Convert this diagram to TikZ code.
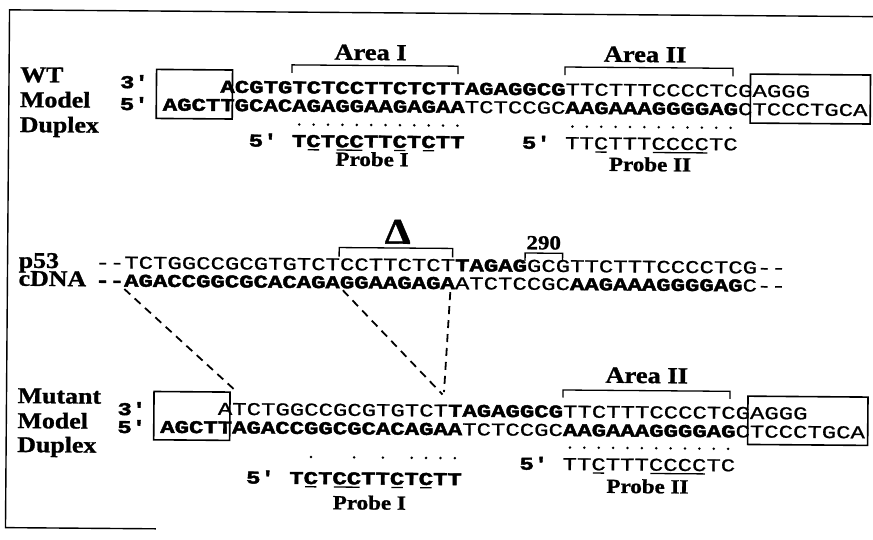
\documentclass[tikz,border=0pt]{standalone}
\usepackage{fontspec}
\newfontfamily\seqf[FakeStretch=1.3315, FakeBold=1.0, BoldFeatures={FakeBold=2.4}]{Liberation Mono}
\newfontfamily\labf[FakeStretch=1.15, FakeBold=1.2]{Liberation Serif}
\newcommand\rg[1]{{\mdseries #1}}
\newcommand\qq{\textquotesingle}
\def\xo{161.5}
\def\pp{14.38}
\def\xq{95.5}
\tikzset{
  seq/.style={anchor=base west, inner sep=0pt, outer sep=0pt, text height=12pt, text depth=0pt, font=\seqf\fontsize{18}{18}\selectfont\bfseries, transform shape},
  side/.style={anchor=base west, inner sep=0pt, text height=14pt, text depth=3pt, font=\labf\fontsize{22.5}{22.5}\selectfont\bfseries, transform shape},
  area/.style={anchor=base, inner sep=0pt, font=\labf\fontsize{23}{23}\selectfont\bfseries, transform shape},
  probelab/.style={anchor=base, inner sep=0pt, font=\labf\fontsize{20}{20}\selectfont\bfseries, transform shape},
  brk/.style={line width=1.3pt},
  seqbox/.style={draw, line width=1.6pt},
  ul/.style={line width=1.3pt},
  dashln/.style={line width=1.8pt, dash pattern=on 8pt off 6pt},
  frameln/.style={line width=1.4pt}
}
\begin{document}
\begin{tikzpicture}[x=1pt,y=-1pt]
\useasboundingbox (0,0) rectangle (873,539);
\begin{scope}[rotate around={-0.45:(436,270)}]
% frame
\draw[frameln] (885,13.2) -- (7.5,13.2) -- (7.5,531) -- (158,531);

% ================= WT =================
\node[side] (wtl) at (18.5,85.3) {WT};
\node[side] (wtm) at (18.5,110.3) {Model};
\node[side] (wtd) at (18.5,135.3) {Duplex};
\node[seq] (wt3) at (118.6,90.5) {3\qq};
\node[seq] (wt5) at (118.6,112.5) {5\qq};
\node[seq] (wt1) at ({\xo+4*\pp},94.4) {ACGTGTCTCCTTCTCTTAGAGGCG\rg{TTCTTTCCCCTCGAGGG}};
\node[seq] (wt2) at (\xo,112.7) {AGCTTGCACAGAGGAAGAGAA\rg{TCTCCGC}AAGAAAGGGGAG\rg{CTCCCTGCA}};
\draw[seqbox] (155,71.6) rectangle (231,120.6);
\draw[seqbox] (749,71.6) rectangle (869,120.6);
% Area I / II
\node[area] (a1) at (368.9,60.5) {Area I};
\draw[brk] (290.4,74) -- (290.4,66) -- (456.4,66) -- (456.4,74);
\node[area] (a2) at (643.4,60.4) {Area II};
\draw[brk] (563.4,74) -- (563.4,66) -- (731.4,66) -- (731.4,74);
% dots
\foreach \c in {9,...,20} \fill ({\xo+(\c+0.5)*\pp},125.5) circle (1.4);
\foreach \c in {28,...,39} \fill ({\xo+(\c+0.5)*\pp},125.5) circle (1.4);
% probes
\node[seq] (wtp15) at ({\xo+6*\pp},148) {5\qq};
\node[seq] (wtp1) at ({\xo+9*\pp},148) {TCTCCTTCTCTT};
\foreach \a/\b in {10/11,12/14,16/17,18/19}
  \draw[ul] ({\xo+\a*\pp+1.5},150.8) -- ({\xo+\b*\pp-1.5},150.8);
\node[seq] (wtp25) at ({\xo+25*\pp},148) {5\qq};
\node[seq] (wtp2) at ({\xo+28*\pp},148) {\rg{TTCTTTCCCCTC}};
\foreach \a/\b in {30/31,34/38}
  \draw[ul] ({\xo+\a*\pp+1.5},150.8) -- ({\xo+\b*\pp-1.5},150.8);
\node[probelab] (wtpl1) at (371.2,166.5) {Probe I};
\node[probelab] (wtpl2) at (649.2,169.5) {Probe II};

% ================= p53 cDNA =================
\node[side] (pl1) at (18.5,271) {p53};
\node[side] (pl2) at (18.5,289) {cDNA};
\node[seq] (p1) at (\xq,271) {\rg{-\kern0pt-TCTGGCCGCGTGTCTCCTTCTCT}TAGAG\rg{GCGTTCTTTCCCCTCG-\kern0pt-}};
\node[seq] (p2) at (\xq,289) {-\kern0pt-AGACCGGCGCACAGAGGAAGAGA\rg{ATCTCCGC}AAGAAAGGGGAG\rg{C-\kern0pt-}};
\node[anchor=base, inner sep=0pt, font=\labf\fontsize{36}{36}\selectfont\bfseries, transform shape] (delta) at (397.5,244) {Δ};
\draw[brk] (339,257.3) -- (339,248.3) -- (452.5,248.3) -- (452.5,257.3);
\node[anchor=base, inner sep=0pt, font=\labf\fontsize{20}{20}\selectfont\bfseries, transform shape] (n290) at (543.5,248.5) {290};
\draw[brk] (525,260.5) -- (525,252.3) -- (562.5,252.3) -- (562.5,260.5);

% ================= Mutant =================
\node[side] (ml) at (18.5,406.3) {Mutant};
\node[side] (mm) at (18.5,431.3) {Model};
\node[side] (md) at (18.5,455.3) {Duplex};
\node[seq] (m3) at (118.6,417.5) {3\qq};
\node[seq] (m5) at (118.6,435.5) {5\qq};
\node[seq] (m1) at ({\xo+4*\pp},416.5) {\rg{ATCTGGCCGCGTGTCT}TAGAGGCG\rg{TTCTTTCCCCTCGAGGG}};
\node[seq] (m2) at (\xo,435) {AGCTTAGACCGGCGCACAGAA\rg{TCTCCGC}AAGAAAGGGGAG\rg{CTCCCTGCA}};
\draw[seqbox] (155,393.7) rectangle (231,442);
\draw[seqbox] (749,393.7) rectangle (869,442);
\node[area] (ma2) at (647.6,381.4) {Area II};
\draw[brk] (564,396.5) -- (564,389) -- (731,389) -- (731,396.5);
% probe I (mutant)
\foreach \c in {10,13,15,17,18,19,20} \fill ({\xo+(\c+0.5)*\pp},458) circle (1.4);
\node[seq] (mp15) at ({\xo+6*\pp},485) {5\qq};
\node[seq] (mp1) at ({\xo+9*\pp},485) {TCTCCTTCTCTT};
\foreach \a/\b in {10/11,12/14,16/17,18/19}
  \draw[ul] ({\xo+\a*\pp+1.5},487.8) -- ({\xo+\b*\pp-1.5},487.8);
\node[probelab] (mpl1) at (371.2,510) {Probe I};
% probe II (mutant)
\foreach \c in {28,...,39} \fill ({\xo+(\c+0.5)*\pp},446.5) circle (1.4);
\node[seq] (mp25) at ({\xo+25*\pp},469) {5\qq};
\node[seq] (mp2) at ({\xo+28*\pp},469) {\rg{TTCTTTCCCCTC}};
\foreach \a/\b in {30/31,34/38}
  \draw[ul] ({\xo+\a*\pp+1.5},471.8) -- ({\xo+\b*\pp-1.5},471.8);
\node[probelab] (mpl2) at (649.2,491.5) {Probe II};

% dashed connectors
\coordinate (s1) at (124.5,291.5);
\coordinate (e1) at (239,394.5);
\coordinate (s2) at (343,291);
\coordinate (e2) at (443.5,394.5);
\coordinate (s3) at (450.5,292);
\coordinate (e3) at (445,392);
\draw[dashln] (s1) -- (e1);
\draw[dashln] (s2) -- (e2);
\draw[dashln] (s3) -- (e3);
\end{scope}
\end{tikzpicture}
\end{document}
